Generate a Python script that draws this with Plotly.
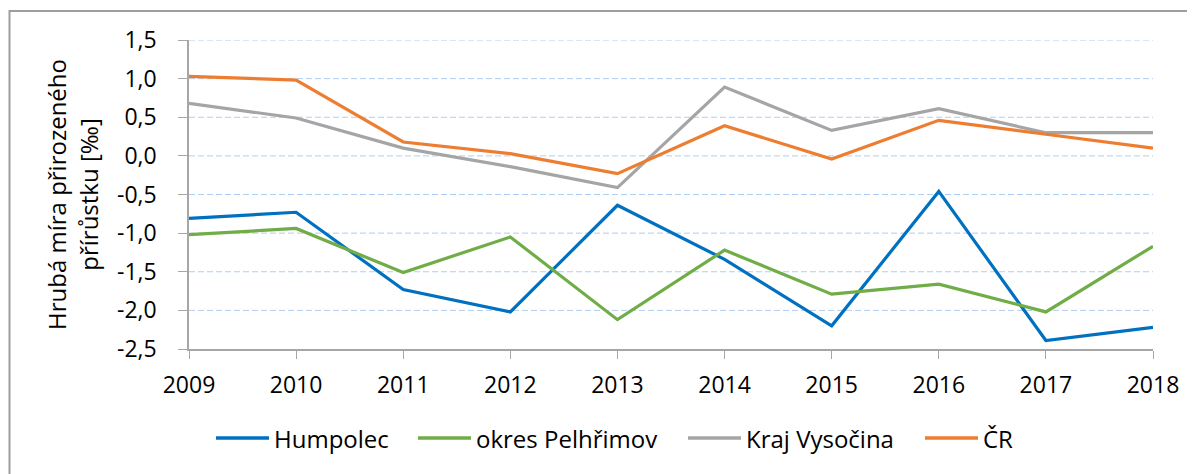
import plotly.graph_objects as go

# data
years = [2009, 2010, 2011, 2012, 2013, 2014, 2015, 2016, 2017, 2018]
humpolec = [-0.81, -0.73, -1.73, -2.02, -0.64, -1.34, -2.20, -0.46, -2.39, -2.22]
okres_pelhrimov = [-1.02, -0.94, -1.51, -1.05, -2.12, -1.22, -1.79, -1.66, -2.02, -1.17]
kraj_vysocina = [0.68, 0.49, 0.10, -0.14, -0.41, 0.89, 0.33, 0.61, 0.30, 0.30]
cr = [1.03, 0.98, 0.18, 0.03, -0.23, 0.39, -0.04, 0.46, 0.28, 0.10]

series_names = ["Humpolec", "okres Pelhřimov", "Kraj Vysočina", "ČR"]
series_values = [humpolec, okres_pelhrimov, kraj_vysocina, cr]
series_colors = ["#0070C0", "#70AD47", "#A5A5A5", "#ED7D31"]

y_tick_vals = [1.5, 1.0, 0.5, 0.0, -0.5, -1.0, -1.5, -2.0, -2.5]
y_tick_text = ["1,5", "1,0", "0,5", "0,0", "-0,5", "-1,0", "-1,5", "-2,0", "-2,5"]

FONT = "Open Sans"
TICK_SIZE = 23
TEXT_SIZE = 24

# plot area in screen pixels: x 189..1153, y 40..349
PX0, PW, PY1, PH = 189, 964, 349, 309


def px_to_paper_x(px):
    return (px - PX0) / PW


def px_to_paper_y(py):
    return (PY1 - py) / PH


fig = go.Figure()
for name, vals, col in zip(series_names, series_values, series_colors):
    fig.add_trace(go.Scatter(x=years, y=vals, name=name, mode="lines",
                             line=dict(color=col, width=3.2), showlegend=False))

# dashed gridlines drawn as shapes so the bottom one stays the axis line
for v in y_tick_vals[:-1]:
    fig.add_shape(type="line", xref="x", yref="y", x0=2009, x1=2018, y0=v, y1=v,
                  line=dict(color="#B0CDF2", width=1, dash="6px,3px"), layer="below")

# outer border of the chart (cut off at right and bottom in the reference)
fig.add_shape(type="rect", xref="paper", yref="paper",
              x0=px_to_paper_x(9.5), x1=1.2, y0=-0.5, y1=px_to_paper_y(11),
              line=dict(color="#9E9E9E", width=2))

# legend below the plot: line sample + label for each series
legend_starts = [216, 418, 688, 925]
legend_y = px_to_paper_y(438)
for name, col, sx in zip(series_names, series_colors, legend_starts):
    fig.add_shape(type="line", xref="paper", yref="paper",
                  x0=px_to_paper_x(sx), x1=px_to_paper_x(sx + 53),
                  y0=legend_y, y1=legend_y, line=dict(color=col, width=3.5))
    fig.add_annotation(text=name, xref="paper", yref="paper",
                       x=px_to_paper_x(sx + 56), y=legend_y,
                       xanchor="left", yanchor="middle", showarrow=False,
                       font=dict(family=FONT, size=TEXT_SIZE, color="#000000"))

# page body has an 8px margin, so the figure is a bit smaller than the window
fig.update_layout(
    width=1187, height=466,
    margin=dict(l=181, r=42, t=32, b=125),
    paper_bgcolor="white", plot_bgcolor="white",
    font=dict(family=FONT, size=TICK_SIZE, color="#000000"),
    showlegend=False,
)
fig.update_xaxes(range=[2009, 2018], tickvals=years, showgrid=False, zeroline=False,
                 showline=True, linecolor="#A6A6A6", linewidth=1.5,
                 ticks="outside", ticklen=8, tickcolor="#A6A6A6",
                 ticklabelstandoff=7,
                 tickfont=dict(family=FONT, size=TICK_SIZE))
fig.update_yaxes(range=[-2.5, 1.5], tickvals=y_tick_vals, ticktext=y_tick_text,
                 showgrid=False, zeroline=False,
                 showline=True, linecolor="#A6A6A6", linewidth=1.5,
                 ticks="outside", ticklen=9, tickcolor="#A6A6A6",
                 ticklabelstandoff=17,
                 tickfont=dict(family=FONT, size=TICK_SIZE),
                 title=dict(text="Hrubá míra přirozeného<br>přírůstku [‰]",
                            font=dict(family=FONT, size=TEXT_SIZE), standoff=12))

fig.write_html("out.html")
